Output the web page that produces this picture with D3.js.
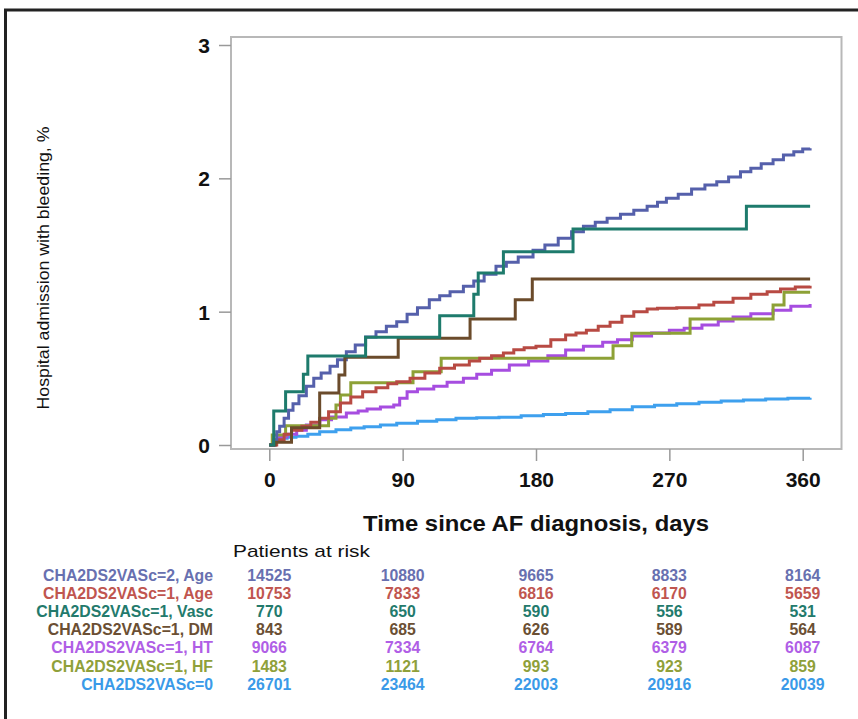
<!DOCTYPE html>
<html>
<head>
<meta charset="utf-8">
<script src="https://cdn.jsdelivr.net/npm/d3@7"></script>
<style>
body { margin: 0; background: #fff; }
svg { display: block; font-family: "Liberation Sans", Arial, sans-serif; }
</style>
</head>
<body>
<div id="chart"></div>
<script>
// groups, in the order of the risk table
var groups = ["CHA2DS2VASc=2, Age", "CHA2DS2VASc=1, Age", "CHA2DS2VASc=1, Vasc",
              "CHA2DS2VASc=1, DM", "CHA2DS2VASc=1, HT", "CHA2DS2VASc=1, HF", "CHA2DS2VASc=0"]
var lineColors = ["#5560ab", "#b84a43", "#1e7b6c", "#6b4b2b", "#a64de0", "#8da136", "#3ea0ee"]
var textColors = ["#6870b0", "#c0554f", "#237a6c", "#6b4f33", "#b05ee6", "#8fa03a", "#3a9ae8"]

var xTicks = [0, 90, 180, 270, 360]
var yTicks = [0, 1, 2, 3]

// patients at risk at 0, 90, 180, 270, 360 days
var risk2Age  = [14525, 10880, 9665, 8833, 8164]
var risk1Age  = [10753, 7833, 6816, 6170, 5659]
var risk1Vasc = [770, 650, 590, 556, 531]
var risk1DM   = [843, 685, 626, 589, 564]
var risk1HT   = [9066, 7334, 6764, 6379, 6087]
var risk1HF   = [1483, 1121, 993, 923, 859]
var risk0     = [26701, 23464, 22003, 20916, 20039]

// cumulative incidence [day, %]
var km2Age = [[0,0],[3,0.04],[5,0.1],[7,0.14],[10,0.2],[13,0.26],[16,0.31],[20,0.37],[25,0.44],[30,0.5],
  [35,0.54],[41,0.59],[46,0.64],[52,0.7],[58,0.75],[65,0.81],[72,0.85],[79,0.89],[86,0.925],[93,0.98],
  [100,1.03],[108,1.09],[115,1.12],[122,1.15],[131,1.19],[138,1.23],[145,1.28],[153,1.34],[160,1.37],
  [168,1.41],[178,1.46],[186,1.5],[195,1.55],[204,1.6],[212,1.64],[220,1.67],[228,1.7],[237,1.73],
  [246,1.76],[255,1.79],[262,1.82],[268,1.85],[276,1.88],[285,1.92],[294,1.95],[302,1.975],[310,2.01],
  [318,2.05],[325,2.075],[332,2.11],[340,2.14],[347,2.175],[354,2.2],[360,2.22],[365,2.225]]
var km1Age = [[0,0],[5,0.04],[10,0.08],[15,0.11],[22,0.14],[28,0.17],[34,0.2],[40,0.25],[48,0.315],
  [55,0.36],[63,0.4],[72,0.43],[80,0.46],[86,0.475],[95,0.5],[105,0.54],[115,0.575],[125,0.6],[135,0.63],
  [142,0.65],[150,0.67],[158,0.69],[165,0.715],[172,0.73],[180,0.74],[190,0.79],[200,0.825],[207,0.84],
  [214,0.86],[222,0.89],[230,0.92],[238,0.965],[246,1.0],[255,1.02],[262,1.025],[275,1.03],[290,1.05],
  [300,1.07],[313,1.1],[325,1.13],[336,1.15],[345,1.17],[355,1.185],[365,1.195]]
var km1Vasc = [[0,0],[3,0.255],[11,0.4],[23,0.53],[26,0.667],[65,0.808],[115,0.97],[138,1.13],[141,1.29],
  [158,1.45],[205,1.62],[322,1.79],[365,1.79]]
var km1DM = [[0,0],[4,0.02],[15,0.13],[34,0.39],[47,0.525],[51,0.658],[87,0.8],[135.5,0.945],[166,1.09],
  [177.5,1.245],[365,1.245]]
var km1HT = [[0,0],[4,0.03],[7,0.06],[12,0.08],[18.5,0.11],[25,0.15],[34,0.19],[42,0.21],[52,0.24],[60,0.255],
  [66,0.27],[75,0.285],[84,0.3],[88,0.35],[93,0.4],[100,0.42],[111,0.44],[120,0.47],[131,0.5],[140,0.53],
  [150,0.56],[162,0.6],[175,0.63],[188,0.67],[200,0.713],[212,0.74],[225,0.77],[235,0.79],[245,0.818],
  [258,0.84],[270,0.86],[280,0.875],[292,0.9],[303,0.93],[313,0.96],[325,0.985],[340,1.01],[352,1.04],[365,1.058]]
var km1HF = [[0,0],[2,0.075],[11,0.145],[40,0.2],[45,0.3],[48,0.375],[55,0.467],[97,0.55],[116,0.65],
  [232,0.745],[244.6,0.838],[284,0.945],[340,1.05],[347.4,1.145],[365,1.145]]
var km0 = [[0,0],[3,0.03],[7,0.05],[12,0.058],[18,0.065],[26,0.08],[34,0.1],[45,0.115],[55,0.127],[64,0.137],
  [75,0.15],[86,0.163],[100,0.178],[113,0.19],[126,0.2],[140,0.205],[155,0.208],[170,0.22],[185,0.228],
  [200,0.237],[215,0.25],[230,0.265],[245,0.287],[260,0.298],[275,0.31],[290,0.32],[305,0.33],[320,0.338],
  [335,0.345],[350,0.35],[365,0.355]]

var curves = [km2Age, km1Age, km1Vasc, km1DM, km1HT, km1HF, km0]
var risks = [risk2Age, risk1Age, risk1Vasc, risk1DM, risk1HT, risk1HF, risk0]
var drawOrder = [6, 4, 5, 1, 0, 3, 2]

var w = 858, h = 719

var svg = d3.select("#chart").append("svg")
    .attr("width", w)
    .attr("height", h)

// figure border (top and left only)
svg.append("line").attr("x1", 4).attr("x2", w).attr("y1", 10).attr("y2", 10)
    .attr("stroke", "#222").attr("stroke-width", 3)
svg.append("line").attr("x1", 5.5).attr("x2", 5.5).attr("y1", 9).attr("y2", h)
    .attr("stroke", "#222").attr("stroke-width", 3)

var x = d3.scaleLinear().domain([0, 360]).range([269.3, 802.7])
var y = d3.scaleLinear().domain([0, 3]).range([445, 45])

var frame = {left: 231, right: 841.5, top: 37, bottom: 449}

svg.append("rect")
    .attr("x", frame.left).attr("y", frame.top)
    .attr("width", frame.right - frame.left).attr("height", frame.bottom - frame.top)
    .attr("fill", "none").attr("stroke", "#b8b8b8").attr("stroke-width", 2)

// y axis
var yAxis = svg.append("g")
    .attr("transform", "translate(" + frame.left + ",0)")
    .call(d3.axisLeft(y).tickValues(yTicks).tickFormat(d3.format("d")).tickSize(12).tickPadding(9))
yAxis.select(".domain").remove()
yAxis.selectAll("line").attr("stroke", "#999").attr("stroke-width", 1.5)
yAxis.selectAll("text").attr("font-size", 21).attr("font-weight", "bold").attr("fill", "#111")
    .attr("dy", "0.36em")

// x axis
var xAxis = svg.append("g")
    .attr("transform", "translate(0," + frame.bottom + ")")
    .call(d3.axisBottom(x).tickValues(xTicks).tickSize(12).tickPadding(11))
xAxis.select(".domain").remove()
xAxis.selectAll("line").attr("stroke", "#999").attr("stroke-width", 1.5)
xAxis.selectAll("text").attr("font-size", 21).attr("font-weight", "bold").attr("fill", "#111")

// titles
svg.append("text")
    .attr("transform", "translate(49,268) rotate(-90)")
    .attr("text-anchor", "middle")
    .attr("font-size", 16.5)
    .attr("textLength", 283).attr("lengthAdjust", "spacingAndGlyphs")
    .attr("fill", "#111")
    .text("Hospital admission with bleeding, %")

svg.append("text")
    .attr("x", 536).attr("y", 531)
    .attr("text-anchor", "middle")
    .attr("font-size", 22).attr("font-weight", "bold")
    .attr("textLength", 346).attr("lengthAdjust", "spacingAndGlyphs")
    .attr("fill", "#111")
    .text("Time since AF diagnosis, days")

svg.append("text")
    .attr("x", 233).attr("y", 557)
    .attr("font-size", 17)
    .attr("textLength", 137).attr("lengthAdjust", "spacingAndGlyphs")
    .attr("fill", "#111")
    .text("Patients at risk")

// curves
var line = d3.line()
    .x(function(d) { return x(d[0]) })
    .y(function(d) { return y(d[1]) })
    .curve(d3.curveStepAfter)

svg.append("g").selectAll("path")
    .data(drawOrder)
    .enter()
    .append("path")
    .attr("d", function(i) { return line(curves[i]) })
    .attr("fill", "none")
    .attr("stroke", function(i) { return lineColors[i] })
    .attr("stroke-width", 3)
    .attr("stroke-linejoin", "miter")

// risk table
var rowY = d3.scaleLinear().domain([0, 6]).range([580.7, 689.7])

var rows = svg.append("g").selectAll("g")
    .data(groups)
    .enter()
    .append("g")
    .attr("fill", function(d, i) { return textColors[i] })
    .attr("font-size", 15.8)
    .attr("font-weight", "bold")

rows.append("text")
    .attr("x", 213)
    .attr("y", function(d, i) { return rowY(i) })
    .attr("text-anchor", "end")
    .text(function(d) { return d })

rows.selectAll(".num")
    .data(function(d, i) { return risks[i].map(function(v, j) { return {v: v, t: xTicks[j], row: i} }) })
    .enter()
    .append("text")
    .attr("class", "num")
    .attr("x", function(d) { return x(d.t) })
    .attr("y", function(d) { return rowY(d.row) })
    .attr("text-anchor", "middle")
    .text(function(d) { return d.v })
</script>
</body>
</html>
